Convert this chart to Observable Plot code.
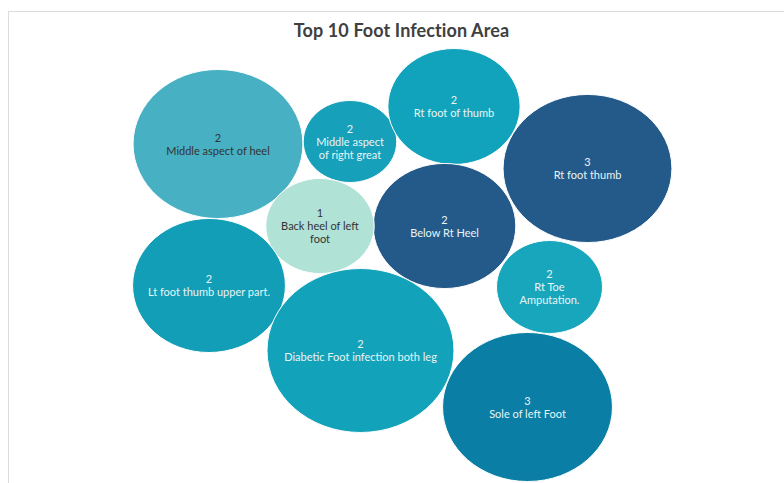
<!DOCTYPE html>
<html>
<head>
<meta charset="utf-8">
<script src="https://cdn.jsdelivr.net/npm/d3@7"></script>
<script src="https://cdn.jsdelivr.net/npm/@observablehq/plot@0.6"></script>
<style>
  html, body { margin: 0; padding: 0; background: #fff; }
  body { width: 784px; height: 483px; position: relative; overflow: hidden; font-family: Lato, "Noto Sans", sans-serif; }
  .frame { position: absolute; left: 8px; top: 11px; right: 0; bottom: 0; border-left: 1px solid #dcdcdc; border-top: 1px solid #dcdcdc; }
  .title { position: absolute; left: 0; width: 784px; top: 19px; text-align: center; font-size: 18px; font-weight: 700; color: #404040; letter-spacing: 0.1px; padding-left: 19px; box-sizing: border-box; }
  #chart { position: absolute; left: 0; top: 45px; }
</style>
</head>
<body>
<div class="frame"></div>
<div class="title">Top 10 Foot Infection Area</div>
<div id="chart"></div>
<script>
// Infection areas and their counts
const areas = [
  "Middle aspect of heel",
  "Middle aspect of right great",
  "Rt foot of thumb",
  "Rt foot thumb",
  "Below Rt Heel",
  "Back heel of left foot",
  "Lt foot thumb upper part.",
  "Diabetic Foot infection both leg",
  "Rt Toe Amputation.",
  "Sole of left Foot"
];
const counts = [2, 2, 2, 3, 2, 1, 2, 2, 2, 3];

// Bubble size measure (area-encoded)
const sizeMeasure = [55.5, 16.8, 33.6, 54.8, 39.1, 22.6, 44.9, 67.2, 21.6, 55.5];

// Label text as wrapped inside each bubble
const labelText = [
  "Middle aspect of heel",
  "Middle aspect\nof right great",
  "Rt foot of thumb",
  "Rt foot thumb",
  "Below Rt Heel",
  "Back heel of left\nfoot",
  "Lt foot thumb upper part.",
  "Diabetic Foot infection both leg",
  "Rt Toe\nAmputation.",
  "Sole of left Foot"
];

// Packed-bubble layout centres (layout units)
const packX = [217.5, 349.5, 453.5, 587, 444, 319.5, 208.5, 360, 549, 527];
const packY = [98.5, 96, 61, 123, 180.5, 180.5, 240, 305, 241.5, 361.5];

// Fill and label colours per area
const fills = ["#47b0c3", "#17a0b9", "#11a3bb", "#235a8a", "#235a8a", "#b0e2d6", "#119eb6", "#12a2ba", "#18a6bd", "#0a7ea4"];
const inks = ["#333333", "#e8f4f6", "#e8f4f6", "#e8f4f6", "#e8f4f6", "#333333", "#e8f4f6", "#e8f4f6", "#e8f4f6", "#e8f4f6"];

const table = areas.map((a, i) => ({
  area: a,
  count: counts[i],
  size: sizeMeasure[i],
  x: packX[i],
  y: packY[i],
  label: counts[i] + "\n" + labelText[i],
  ink: inks[i]
}));

// Bubbles are drawn slightly wider than tall
const stretch = 1.14;
const ellipse = {
  draw(ctx, size) {
    const r = Math.sqrt(size / Math.PI);
    const a = r * stretch, b = r, k = 0.5522848;
    ctx.moveTo(a, 0);
    ctx.bezierCurveTo(a, b * k, a * k, b, 0, b);
    ctx.bezierCurveTo(-a * k, b, -a, b * k, -a, 0);
    ctx.bezierCurveTo(-a, -b * k, -a * k, -b, 0, -b);
    ctx.bezierCurveTo(a * k, -b, a, -b * k, a, 0);
    ctx.closePath();
  }
};

const chart = Plot.plot({
  width: 784,
  height: 438,
  margin: 0,
  style: { background: "transparent", fontFamily: "Lato, 'Noto Sans', sans-serif" },
  x: { domain: [0, 784], range: [0, 784], axis: null },
  y: { domain: [0, 438], range: [0, 438], axis: null },
  r: { type: "sqrt", domain: [0, 67.2], range: [0, 82] },
  color: { type: "ordinal", domain: areas, range: fills },
  marks: [
    Plot.dot(table, {
      x: "x", y: "y", r: "size", fill: "area", symbol: ellipse,
      stroke: "white", strokeWidth: 1, sort: null
    }),
    Plot.text(table, {
      x: "x", y: "y", text: "label", fill: "ink",
      fontSize: 11, lineHeight: 1.18, lineAnchor: "middle", textAnchor: "middle"
    })
  ]
});
document.getElementById("chart").appendChild(chart);
</script>
</body>
</html>
